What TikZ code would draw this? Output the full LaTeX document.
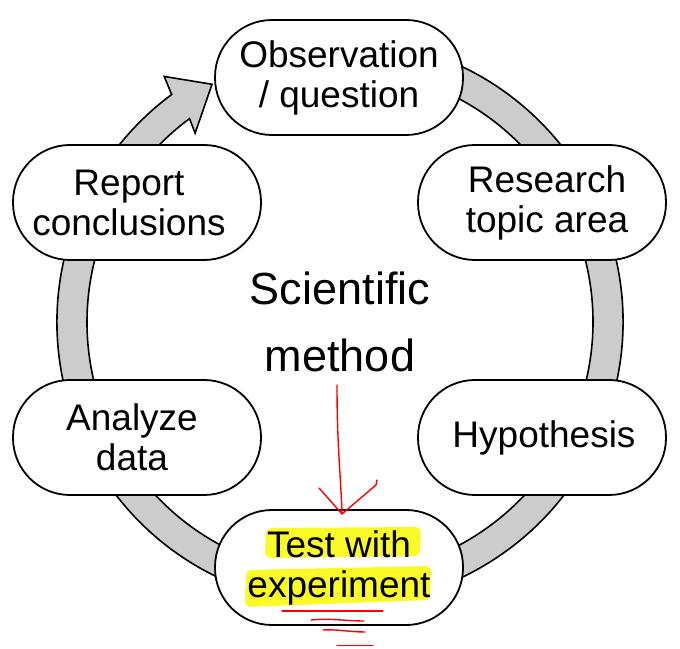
\documentclass[tikz,border=0pt]{standalone}
\usepackage{fontspec}
\setmainfont{Liberation Sans}
\usetikzlibrary{calc}
\definecolor{ringgray}{RGB}{204,204,204}
\definecolor{hlyellow}{RGB}{250,250,40}
\begin{document}
\begin{tikzpicture}[x=1pt,y=1pt,
  stage/.style={draw=black, line width=1.8pt, fill=white, rectangle,
    rounded corners=57pt, minimum width=248pt, minimum height=115pt,
    inner sep=0pt},
  stagetext/.style={align=center, inner sep=0pt, font=\fontsize{37}{40}\selectfont},
  ringband/.style={draw=black, line width=1.6pt, fill=ringgray, line join=miter},
  redpen/.style={draw=red, line width=1.4pt, line cap=round, line join=round},
  highlight/.style={fill=hlyellow, rounded corners=6pt}]
\useasboundingbox (0,0) rectangle (680,648);
\coordinate (C) at (340,326);
% ring with arrow head
\path[ringband] ($(C)+(75:283)$) arc[start angle=75, end angle=-233.5, radius=283]
  -- ($(C)+(-234.4:302)$) -- ($(C)+(-241.7:270)$) -- ($(C)+(-232.5:238)$)
  -- ($(C)+(-233.5:253)$) arc[start angle=-233.5, end angle=75, radius=253] -- cycle;
% stages
\node[stage] (obs) at (339,570.5) {};
\node[stage] (res) at (542,445.5) {};
\node[stage] (hyp) at (542,210.5) {};
\node[stage] (test) at (339,80.5) {};
\node[stage] (ana) at (137,210.5) {};
\node[stage] (rep) at (137,445.5) {};
\node[stagetext] (obstext) at (obs) {Observation\\/ question};
\node[stagetext, xshift=5pt] (restext) at (res) {Research\\topic area};
\node[stagetext, xshift=2pt] (hyptext) at (hyp) {Hypothesis};
\node[stagetext, xshift=-5pt] (anatext) at (ana) {Analyze\\data};
\node[stagetext, xshift=-8pt] (reptext) at (rep) {Report\\conclusions};
% highlights
\path[highlight] (265,90) -- (420,92) -- (421,121) -- (266,120) -- cycle;
\path[highlight] (245,41) -- (430,48) -- (431,82) -- (246,78) -- cycle;
\node[stagetext] (testtext) at (test) {Test with\\experiment};
% centre title
\node[align=center, inner sep=0pt, font=\fontsize{45}{67}\selectfont] (title) at (C) {Scientific\\method};
% red annotations
\coordinate (rtop) at (337,263);
\coordinate (rtip) at (342,134);
\coordinate (rleft) at (319,160);
\coordinate (rright) at (376,163);
\coordinate (rhook) at (377,168);
\draw[redpen] (rtop) .. controls (337,200) and (341,170) .. (rtip);
\draw[redpen] (rleft) -- (rtip) -- (rright) -- (rhook);
\coordinate (u1a) at (282,37); \coordinate (u1b) at (383,37);
\coordinate (u2a) at (311,28); \coordinate (u2b) at (364,27);
\coordinate (u3a) at (323,18); \coordinate (u3b) at (365,16);
\coordinate (u4a) at (337,2.5); \coordinate (u4b) at (373,2.5);
\draw[redpen] (u1a) -- (u1b);
\draw[redpen] (u2a) .. controls (330,30) and (345,27) .. (u2b);
\draw[redpen] (u3a) .. controls (335,19) and (350,16) .. (u3b);
\draw[redpen] (u4a) -- (u4b);
\end{tikzpicture}
\end{document}
